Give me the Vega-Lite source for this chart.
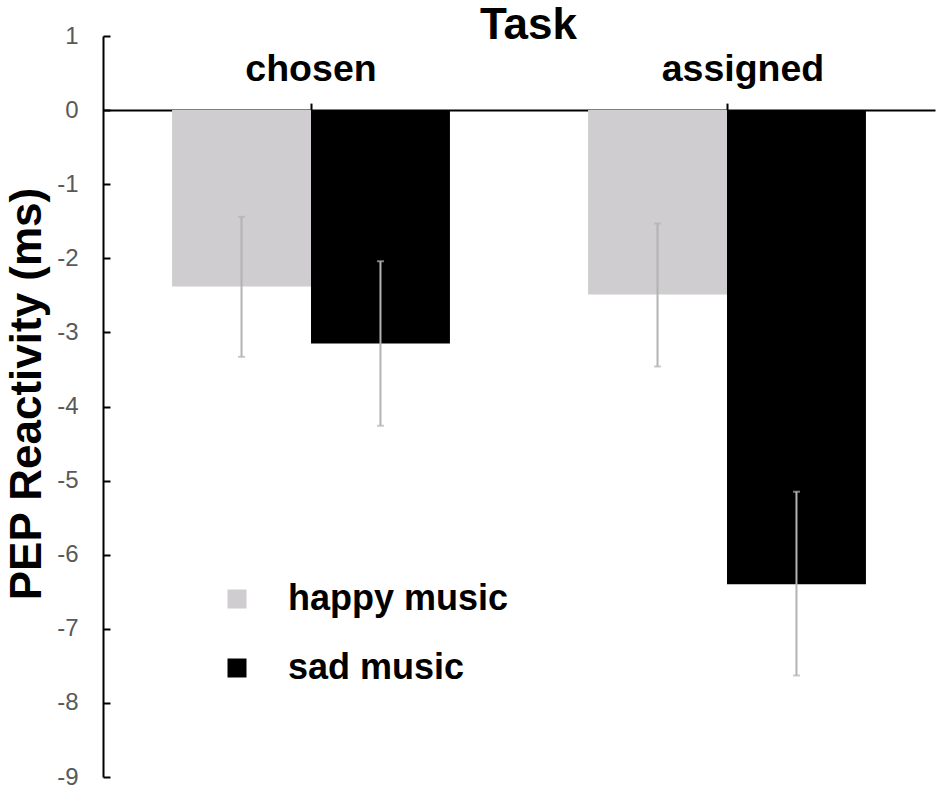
{
  "$schema": "https://vega.github.io/schema/vega-lite/v6.json",
  "width": 832,
  "height": 741,
  "autosize": {"type": "none"},
  "padding": {"left": 103, "top": 36, "right": 2, "bottom": 14},
  "background": "white",
  "config": {
    "view": {"stroke": null},
    "font": "Liberation Sans"
  },
  "data": {
    "values": [
      {"task": "chosen", "music": "happy music", "value": -2.38, "lo": -1.44, "hi": -3.33},
      {"task": "chosen", "music": "sad music", "value": -3.15, "lo": -2.04, "hi": -4.26},
      {"task": "assigned", "music": "happy music", "value": -2.49, "lo": -1.53, "hi": -3.46},
      {"task": "assigned", "music": "sad music", "value": -6.4, "lo": -5.15, "hi": -7.63}
    ]
  },
  "encoding": {
    "x": {
      "field": "task",
      "type": "nominal",
      "sort": ["chosen", "assigned"],
      "scale": {"paddingInner": 0.332, "paddingOuter": 0.166},
      "axis": {
        "orient": "top",
        "offset": -74.1,
        "title": "Task",
        "titleFontSize": 44,
        "titleFontWeight": "bold",
        "titleColor": "black",
        "titleX": 425,
        "titleY": -72,
        "titleBaseline": "alphabetic",
        "titleAnchor": "middle",
        "labelAngle": 0,
        "labelFontSize": 37.5,
        "labelFontWeight": "bold",
        "labelColor": "black",
        "labelBaseline": "alphabetic",
        "labelPadding": 23,
        "labelOffset": {"condition": {"test": "datum.value === 'assigned'", "value": 16}, "value": 0},
        "tickSize": 7,
        "tickWidth": 2,
        "tickColor": "black",
        "domainColor": "black",
        "domainWidth": 2,
        "grid": false
      }
    },
    "xOffset": {
      "field": "music",
      "type": "nominal",
      "sort": ["happy music", "sad music"],
      "scale": {"paddingInner": 0, "paddingOuter": 0}
    }
  },
  "layer": [
    {
      "mark": {"type": "bar"},
      "encoding": {
        "y": {
          "field": "value",
          "type": "quantitative",
          "scale": {"domain": [-9, 1], "nice": false, "zero": false},
          "axis": {
            "title": "PEP Reactivity (ms)",
            "titleFontSize": 44,
            "titleFontWeight": "bold",
            "titleColor": "black",
            "titleX": -63,
            "titleY": 357.5,
            "titleBaseline": "alphabetic",
            "titleAnchor": "middle",
            "values": [-9, -8.5, -8, -7.5, -7, -6.5, -6, -5.5, -5, -4.5, -4, -3.5, -3, -2.5, -2, -1.5, -1, -0.5, 0, 0.5, 1],
            "labelExpr": "datum.value % 1 === 0 ? toString(datum.value) : ''",
            "labelFontSize": 24,
            "labelColor": "#595959",
            "labelPadding": 32,
            "labelOverlap": false,
            "tickSize": {"condition": {"test": "datum.value % 1 !== 0", "value": -5}, "value": -7},
            "tickWidth": 2,
            "tickColor": "black",
            "domainColor": "black",
            "domainWidth": 2,
            "grid": false
          }
        },
        "y2": {"datum": 0},
        "color": {
          "field": "music",
          "type": "nominal",
          "scale": {"domain": ["happy music", "sad music"], "range": ["#cfcdcf", "#000000"]},
          "legend": {
            "title": null,
            "orient": "none",
            "legendX": 116,
            "legendY": 545,
            "padding": 0,
            "symbolType": "square",
            "symbolSize": 361,
            "symbolStrokeWidth": 0,
            "labelFontSize": 36,
            "labelFontWeight": "bold",
            "labelColor": "black",
            "labelOffset": 33,
            "labelLimit": 500,
            "rowPadding": 33
          }
        }
      }
    },
    {
      "mark": {"type": "rule", "color": "#b3b3b3", "strokeWidth": 2},
      "encoding": {
        "y": {"field": "lo", "type": "quantitative"},
        "y2": {"field": "hi"}
      }
    },
    {
      "mark": {"type": "tick", "color": "#b3b3b3", "thickness": 2, "size": 7},
      "encoding": {
        "y": {"field": "lo", "type": "quantitative"}
      }
    },
    {
      "mark": {"type": "tick", "color": "#b3b3b3", "thickness": 2, "size": 7},
      "encoding": {
        "y": {"field": "hi", "type": "quantitative"}
      }
    }
  ]
}
